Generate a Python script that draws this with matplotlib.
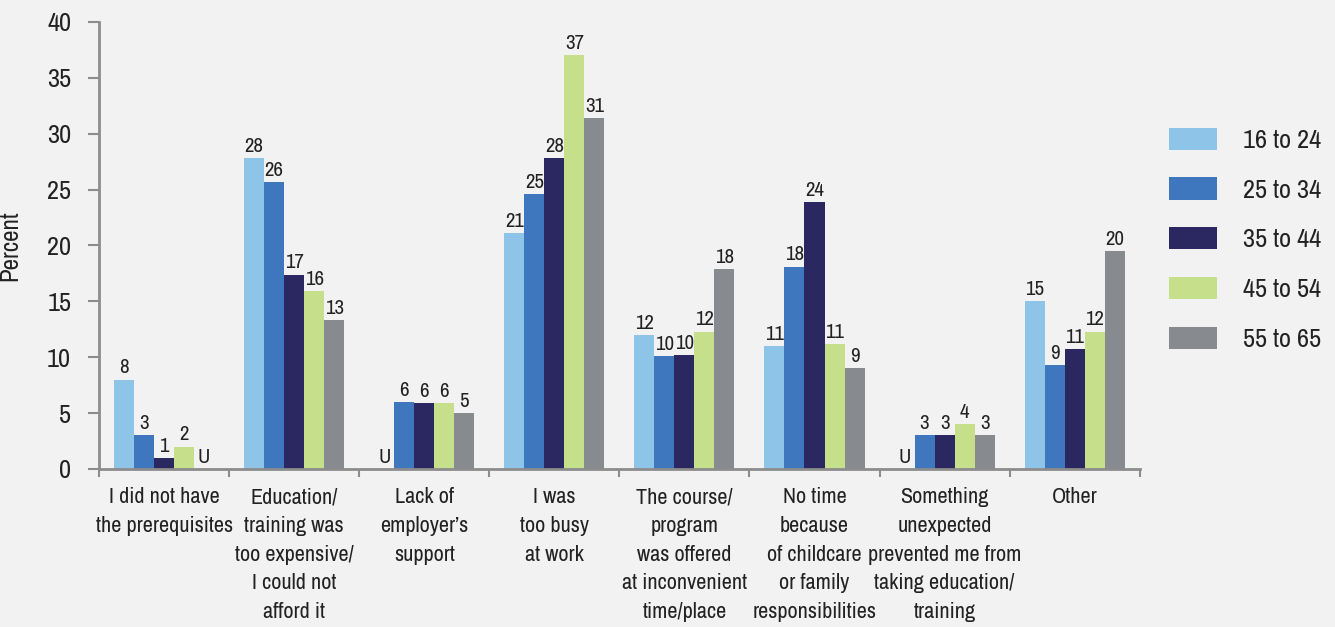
import numpy as np
import matplotlib
matplotlib.use("Agg")
import matplotlib.pyplot as plt

plt.rcParams['font.family'] = ['Archivo Narrow', 'DejaVu Sans']

categories = [
    "I did not have\nthe prerequisites",
    "Education/\ntraining was\ntoo expensive/\nI could not\nafford it",
    "Lack of\nemployer\u2019s\nsupport",
    "I was\ntoo busy\nat work",
    "The course/\nprogram\nwas offered\nat inconvenient\ntime/place",
    "No time\nbecause\nof childcare\nor family\nresponsibilities",
    "Something\nunexpected\nprevented me from\ntaking education/\ntraining",
    "Other",
]
age_groups = ["16 to 24", "25 to 34", "35 to 44", "45 to 54", "55 to 65"]

# percent by age group; None = unreliable estimate (shown as "U")
age_16_24 = [8.0, 27.8, None, 21.1, 12.0, 11.0, None, 15.0]
age_25_34 = [3.0, 25.7, 6.0, 24.6, 10.1, 18.1, 3.0, 9.3]
age_35_44 = [1.0, 17.4, 5.9, 27.8, 10.2, 23.9, 3.0, 10.7]
age_45_54 = [2.0, 15.9, 5.9, 37.0, 12.3, 11.2, 4.0, 12.3]
age_55_65 = [None, 13.3, 5.0, 31.4, 17.9, 9.0, 3.0, 19.5]

series = [age_16_24, age_25_34, age_35_44, age_45_54, age_55_65]
colors = ["#8dc4e8", "#3e77bd", "#2a2761", "#c6df8a", "#878a8e"]

bg = "#f2f2f2"
axis_grey = "#8c8c8c"
ink = "#222222"

fig = plt.figure(figsize=(13.35, 6.27), dpi=100, facecolor=bg)
ax = fig.add_axes([0.0742, 0.252, 0.7795, 0.713], facecolor=bg)

n = len(categories)
width = 0.154
x = np.arange(n)

for i, (vals, col, lab) in enumerate(zip(series, colors, age_groups)):
    pos = x + (i - 2) * width
    heights = [v if v is not None else 0 for v in vals]
    ax.bar(pos, heights, width, color=col, label=lab, linewidth=0)
    for p, v in zip(pos, vals):
        if v is None:
            ax.text(p, 0.2, "U", ha="center", va="bottom", fontsize=15, color=ink)
        else:
            ax.text(p, v + 0.2, f"{v:.0f}", ha="center", va="bottom",
                    fontsize=15, color=ink)

ax.set_xlim(-0.5, n - 0.5)
ax.set_ylim(0, 40)
ax.set_yticks(np.arange(0, 41, 5))
ax.tick_params(axis="y", length=8, width=1.5, color=axis_grey,
               labelsize=19, labelcolor=ink, pad=12)

# group separators as major ticks, category names as minor ticks
ax.set_xticks(np.arange(-0.5, n, 1.0))
ax.set_xticklabels([])
ax.set_xticks(x, minor=True)
ax.set_xticklabels(categories, minor=True, fontsize=16, color=ink,
                   linespacing=1.55)
ax.tick_params(axis="x", which="major", length=6, width=1.5, color=axis_grey)
ax.tick_params(axis="x", which="minor", length=0, pad=13)

for side in ["top", "right"]:
    ax.spines[side].set_visible(False)
for side in ["left", "bottom"]:
    ax.spines[side].set_color(axis_grey)
    ax.spines[side].set_linewidth(2)

ax.set_ylabel("Percent", fontsize=18, color=ink)
ax.yaxis.set_label_coords(-0.075, 0.5)

leg = ax.legend(loc="upper left", bbox_to_anchor=(1.005, 0.817), frameon=False,
                fontsize=19, handlelength=1.85, handleheight=0.92,
                labelspacing=0.97, handletextpad=0.95)
for t in leg.get_texts():
    t.set_color(ink)

fig.savefig("out.png", dpi=100, facecolor=bg)
